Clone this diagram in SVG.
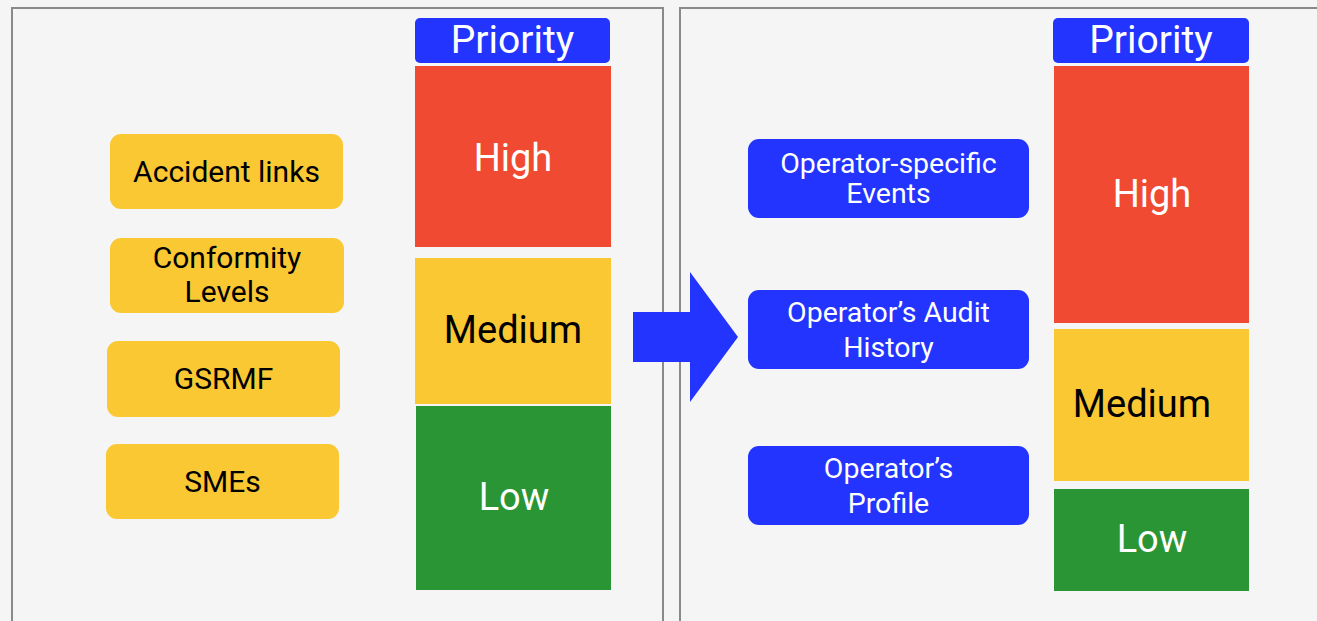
<svg xmlns="http://www.w3.org/2000/svg" width="1317" height="621" viewBox="0 0 1317 621">
<style>
.panel{fill:#f5f5f5;stroke:#8a8a8a;stroke-width:2}
.yel{fill:#f9c832}
.blu{fill:#2234fe}
.red{fill:#f04a33}
.grn{fill:#2a9535}
text{font-family:Roboto,"Liberation Sans",sans-serif;text-anchor:middle}
.nt{font-size:30px;fill:#000}
.bt{font-size:28.5px;fill:#fff}
.pt{font-size:39px;fill:#fff}
.lv{font-size:38px}
.w{fill:#fff}
.k{fill:#000}
</style>
<rect x="0" y="0" width="1317" height="621" fill="#f5f5f5"/>
<rect class="panel" x="12" y="8" width="651" height="640"/>
<rect class="panel" x="680" y="8" width="660" height="640"/>

<g id="left-priority">
<rect class="blu" x="415" y="18" width="195" height="45" rx="5"/>
<text class="pt" x="512.5" y="53">Priority</text>
</g>
<g id="left-high">
<rect class="red" x="415" y="66" width="196" height="181"/>
<text class="lv w" x="513" y="171">High</text>
</g>
<g id="left-medium">
<rect class="yel" x="415" y="258" width="196" height="146"/>
<text class="lv k" x="513" y="343">Medium</text>
</g>
<g id="left-low">
<rect class="grn" x="416" y="406" width="195" height="184"/>
<text class="lv w" x="514" y="510">Low</text>
</g>

<g id="accident-links">
<rect class="yel" x="110" y="134" width="233" height="75" rx="11"/>
<text class="nt" x="226.5" y="182">Accident links</text>
</g>
<g id="conformity-levels">
<rect class="yel" x="110" y="238" width="234" height="75" rx="11"/>
<text class="nt" x="227" y="268">Conformity</text>
<text class="nt" x="227" y="302">Levels</text>
</g>
<g id="gsrmf">
<rect class="yel" x="107" y="341" width="233" height="76" rx="11"/>
<text class="nt" x="223.5" y="389">GSRMF</text>
</g>
<g id="smes">
<rect class="yel" x="106" y="444" width="233" height="75" rx="11"/>
<text class="nt" x="222.5" y="492">SMEs</text>
</g>

<g id="connectors">
<polygon class="blu" points="633,312 690,312 690,272 738,337 690,402 690,362 633,362"/>
</g>

<g id="right-priority">
<rect class="blu" x="1053" y="18" width="196" height="45" rx="5"/>
<text class="pt" x="1151" y="53">Priority</text>
</g>
<g id="right-high">
<rect class="red" x="1054" y="66" width="195" height="257"/>
<text class="lv w" x="1152" y="207">High</text>
</g>
<g id="right-medium">
<rect class="yel" x="1054" y="329" width="195" height="152"/>
<text class="lv k" x="1142" y="417">Medium</text>
</g>
<g id="right-low">
<rect class="grn" x="1054" y="489" width="195" height="102"/>
<text class="lv w" x="1152" y="552">Low</text>
</g>

<g id="operator-specific-events">
<rect class="blu" x="748" y="139" width="281" height="79" rx="11"/>
<text class="bt" x="888.5" y="173">Operator-specific</text>
<text class="bt" x="888.5" y="203">Events</text>
</g>
<g id="operators-audit-history">
<rect class="blu" x="748" y="290" width="281" height="79" rx="11"/>
<text class="bt" x="888.5" y="322">Operator’s Audit</text>
<text class="bt" x="888.5" y="357">History</text>
</g>
<g id="operators-profile">
<rect class="blu" x="748" y="446" width="281" height="79" rx="11"/>
<text class="bt" x="888.5" y="478">Operator’s</text>
<text class="bt" x="888.5" y="513">Profile</text>
</g>
</svg>
